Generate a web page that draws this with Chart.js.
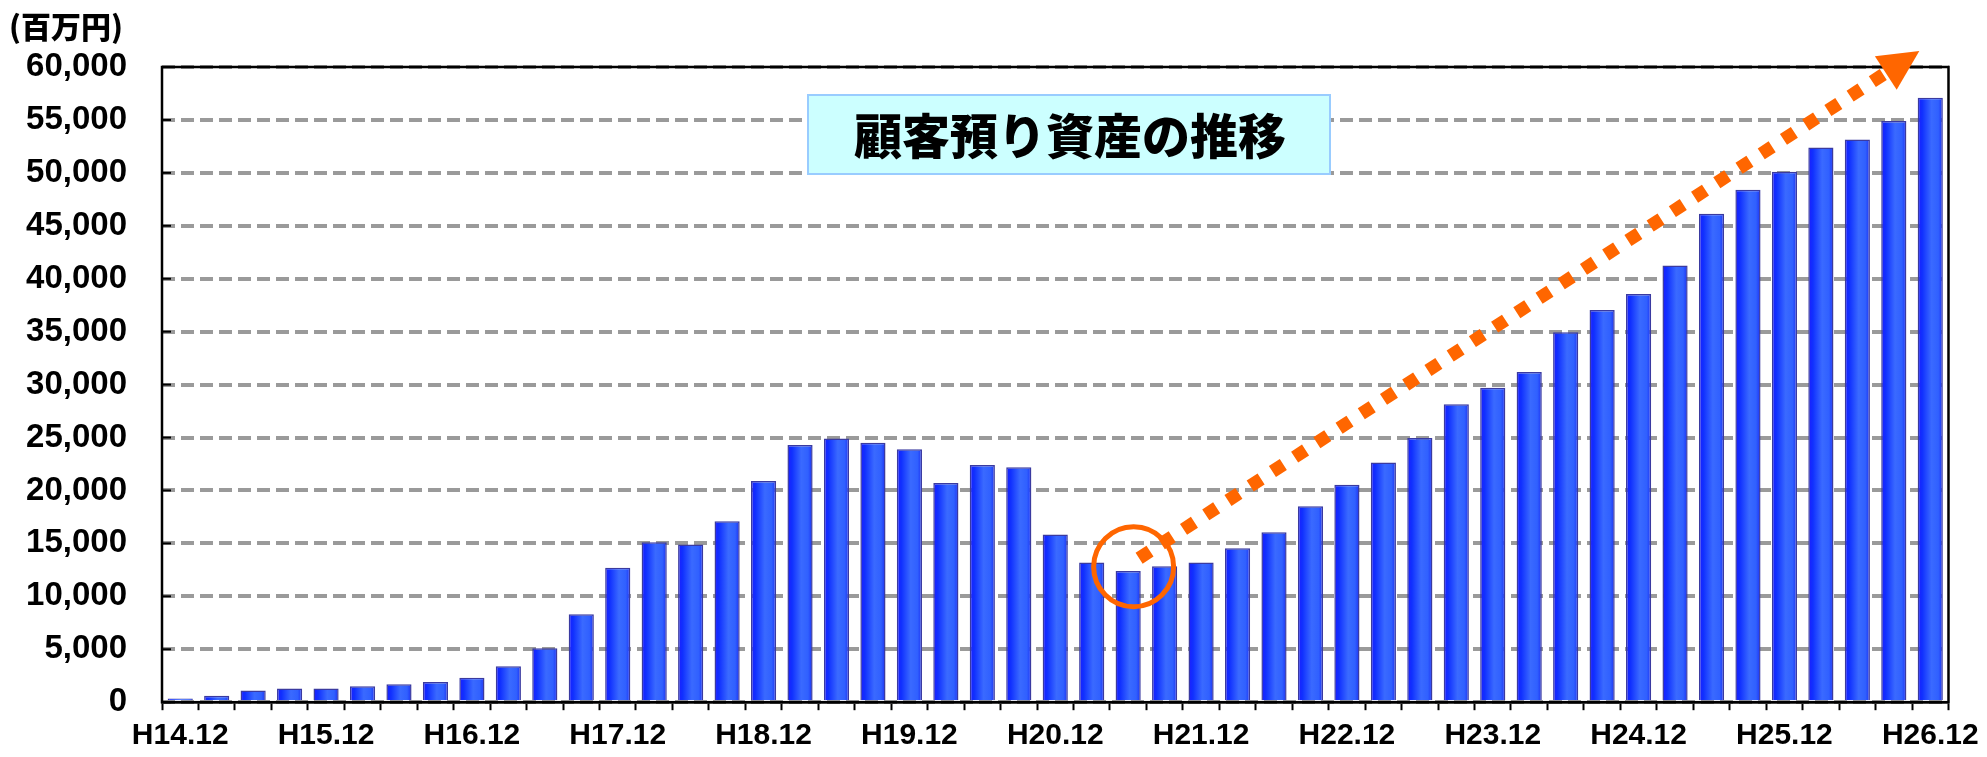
<!DOCTYPE html>
<html>
<head>
<meta charset="utf-8">
<script src="https://cdn.jsdelivr.net/npm/chart.js@4.4.1/dist/chart.umd.min.js"></script>
<style>
  body { margin: 0; background: #fff; }
  canvas { display: block; }
</style>
</head>
<body>
<canvas id="assetChart" width="1987" height="757"></canvas>
<script>
// quarter-end dates, H14.12 .. H26.12
const categories = [
  'H14.12',
  'H15.3', 'H15.6', 'H15.9', 'H15.12',
  'H16.3', 'H16.6', 'H16.9', 'H16.12',
  'H17.3', 'H17.6', 'H17.9', 'H17.12',
  'H18.3', 'H18.6', 'H18.9', 'H18.12',
  'H19.3', 'H19.6', 'H19.9', 'H19.12',
  'H20.3', 'H20.6', 'H20.9', 'H20.12',
  'H21.3', 'H21.6', 'H21.9', 'H21.12',
  'H22.3', 'H22.6', 'H22.9', 'H22.12',
  'H23.3', 'H23.6', 'H23.9', 'H23.12',
  'H24.3', 'H24.6', 'H24.9', 'H24.12',
  'H25.3', 'H25.6', 'H25.9', 'H25.12',
  'H26.3', 'H26.6', 'H26.9', 'H26.12'
];

// 顧客預り資産 (百万円)
const assets = [
  350,
  600, 1100, 1300, 1300,
  1500, 1700, 1900, 2300,
  3400, 5100, 8300, 12700,
  15100, 14900, 17100, 20900,
  24300, 24900, 24500, 23900,
  20700, 22400, 22200, 15850,
  13200, 12400, 12850, 13200,
  14550, 16050, 18500, 20550,
  22650, 24950, 28150, 29700,
  31200, 34950, 37050, 38550,
  41250, 46150, 48400, 50100,
  52400, 53150, 54900, 57100
];

const tickLabels = ['H14.12', 'H15.12', 'H16.12', 'H17.12', 'H18.12', 'H19.12', 'H20.12',
  'H21.12', 'H22.12', 'H23.12', 'H24.12', 'H25.12', 'H26.12'];
const yTicks = [0, 5000, 10000, 15000, 20000, 25000, 30000, 35000, 40000, 45000, 50000, 55000, 60000];

const chartTitle = '顧客預り資産の推移';
const unitLabel = '(百万円)';

const barPct = 0.69;
const orange = '#FF6600';

function barGradient(ctx) {
  const chart = ctx.chart;
  if (!chart.chartArea || ctx.type !== 'data') return '#2F5BFF';
  const xs = chart.scales.x;
  const cx = xs.getPixelForValue(ctx.dataIndex);
  const w = (xs.width / categories.length) * barPct;
  const g = chart.ctx.createLinearGradient(cx - w / 2, 0, cx + w / 2, 0);
  g.addColorStop(0, '#1c1cff');
  g.addColorStop(0.18, '#1030ff');
  g.addColorStop(0.55, '#3a6aff');
  g.addColorStop(0.82, '#3060ff');
  g.addColorStop(1, '#1c30f2');
  return g;
}

const decorations = {
  id: 'decorations',
  afterDraw(chart) {
    const c = chart.ctx;
    const a = chart.chartArea;
    const xs = chart.scales.x;
    const ys = chart.scales.y;
    const step = xs.width / categories.length;
    const px = i => xs.left + (i + 0.5) * step;

    c.save();
    // plot frame
    c.strokeStyle = '#000';
    c.lineWidth = 2.5;
    c.strokeRect(a.left, a.top, a.right - a.left, a.bottom - a.top);

    // short inner tick marks on the value axis
    c.lineWidth = 2;
    yTicks.forEach(v => {
      const y = ys.getPixelForValue(v);
      c.beginPath();
      c.moveTo(a.left, y);
      c.lineTo(a.left + 9, y);
      c.stroke();
    });

    // circle round the low point
    c.strokeStyle = orange;
    c.lineWidth = 5;
    c.beginPath();
    c.arc(px(26.15), ys.getPixelForValue(12800), 40, 0, Math.PI * 2);
    c.stroke();

    // dotted trend arrow
    const x0 = px(26.3), y0 = ys.getPixelForValue(13600);
    const x1 = px(47.7), y1 = ys.getPixelForValue(61500);
    const ang = Math.atan2(y1 - y0, x1 - x0);
    const headLen = 40, headHalf = 20;
    const bx = x1 - Math.cos(ang) * headLen, by = y1 - Math.sin(ang) * headLen;
    c.lineWidth = 13;
    c.lineCap = 'butt';
    c.setLineDash([13, 13.5]);
    c.beginPath();
    c.moveTo(x0, y0);
    c.lineTo(bx, by);
    c.stroke();
    c.setLineDash([]);
    c.fillStyle = orange;
    c.beginPath();
    c.moveTo(x1, y1);
    c.lineTo(bx + Math.sin(ang) * headHalf, by - Math.cos(ang) * headHalf);
    c.lineTo(bx - Math.sin(ang) * headHalf, by + Math.cos(ang) * headHalf);
    c.closePath();
    c.fill();

    // title box
    c.fillStyle = '#CCFFFF';
    c.strokeStyle = '#99CCFF';
    c.lineWidth = 2;
    c.fillRect(808, 95, 522, 79);
    c.strokeRect(808, 95, 522, 79);
    c.fillStyle = '#000';
    c.font = '900 48px "Noto Sans CJK JP", sans-serif';
    c.textAlign = 'center';
    c.textBaseline = 'middle';
    c.fillText(chartTitle, 1070, 136);

    // unit
    c.font = '900 30px "Noto Sans CJK JP", sans-serif';
    c.textAlign = 'left';
    c.fillText(unitLabel, 9, 27);
    c.restore();
  }
};

new Chart(document.getElementById('assetChart'), {
  type: 'bar',
  data: {
    labels: categories,
    datasets: [{
      data: assets,
      backgroundColor: barGradient,
      borderColor: '#3a3aa0',
      borderWidth: 1.5,
      borderSkipped: 'bottom',
      barPercentage: barPct,
      categoryPercentage: 1
    }]
  },
  options: {
    responsive: false,
    animation: false,
    layout: { padding: { left: 0, right: 36, top: 67, bottom: 0 } },
    plugins: {
      legend: { display: false },
      tooltip: { enabled: false }
    },
    scales: {
      x: {
        afterFit: s => { s.height = 49; },
        grid: {
          offset: true,
          drawOnChartArea: false,
          drawTicks: true,
          tickLength: 8,
          tickColor: '#000',
          tickWidth: 2
        },
        border: { display: true, color: '#000', width: 2.5 },
        ticks: {
          autoSkip: false,
          maxRotation: 0,
          padding: 8,
          color: '#000',
          font: { family: '"Liberation Sans", Arial, sans-serif', size: 30, weight: 'bold' },
          callback: (v, i) => tickLabels.includes(categories[i]) ? categories[i] : ''
        }
      },
      y: {
        min: 0,
        max: 60000,
        afterFit: s => { s.width = 162; },
        grid: {
          color: '#9a9a9a',
          lineWidth: 4,
          drawTicks: false
        },
        border: { display: false, dash: [13, 6] },
        ticks: {
          stepSize: 5000,
          padding: 35,
          color: '#000',
          font: { family: '"Liberation Sans", Arial, sans-serif', size: 33, weight: 'bold' },
          callback: v => v.toLocaleString('en-US')
        }
      }
    }
  },
  plugins: [decorations]
});
</script>
</body>
</html>
